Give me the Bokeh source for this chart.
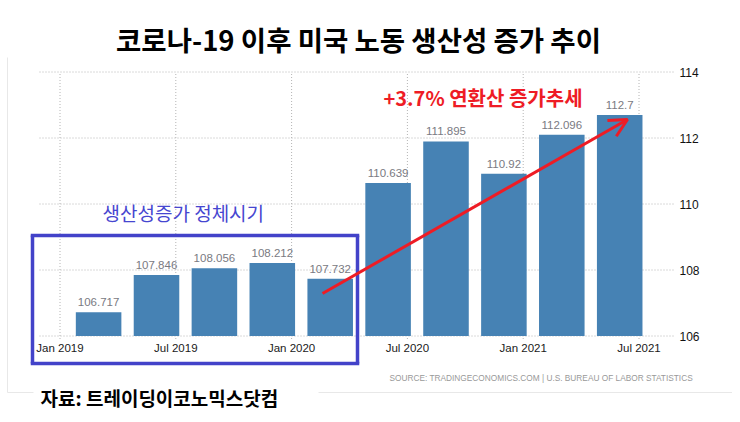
from bokeh.plotting import figure
from bokeh.models import Label, Arrow, OpenHead, ColumnDataSource, Range1d
from bokeh.core.properties import value
from bokeh.embed import file_html
from bokeh.resources import INLINE

# ---------------- data ----------------
quarters = ["2019-03", "2019-06", "2019-09", "2019-12", "2020-03",
            "2020-06", "2020-09", "2020-12", "2021-03", "2021-06"]
productivity = [106.717, 107.846, 108.056, 108.212, 107.732,
                110.639, 111.895, 110.92, 112.096, 112.7]
tick_months = [0, 6, 12, 18, 24, 30]
tick_labels = ["Jan 2019", "Jul 2019", "Jan 2020", "Jul 2020", "Jan 2021", "Jul 2021"]
y_ticks = [106, 108, 110, 112, 114]

title_text = "코로나-19 이후 미국 노동 생산성 증가 추이"
stall_text = "생산성증가 정체시기"
trend_text = "+3.7% 연환산 증가추세"
source_text = "SOURCE: TRADINGECONOMICS.COM | U.S. BUREAU OF LABOR STATISTICS"
credit_text = "자료:  트레이딩이코노믹스닷컴"

# ---------------- layout constants (picture pixels) ----------------
W, H = 732, 414
X0_PX, PX_PER_MONTH = 59.5, 19.3      # pixel of Jan 2019, pixels per month
Y0_PX, PX_PER_UNIT = 335.5, 33.0      # pixel of value 106, pixels per unit
Y_BASE = 106
PLOT_L, PLOT_R, PLOT_T = 39, 675, 71


def dx(px):
    return (px - X0_PX) / PX_PER_MONTH


def dy(py):
    return Y_BASE + (Y0_PX - py) / PX_PER_UNIT


months = [(int(q[:4]) - 2019) * 12 + int(q[5:]) - 1 for q in quarters]
labels = [str(v) for v in productivity]
src = ColumnDataSource(dict(m=months, v=productivity, lab=labels))

p = figure(width=W, height=H,
           x_range=Range1d(dx(0), dx(W)), y_range=Range1d(dy(H), dy(0)),
           output_backend="svg", toolbar_location=None,
           x_axis_location=None, y_axis_location=None,
           min_border=0, min_border_left=0, min_border_right=0,
           min_border_top=0, min_border_bottom=0)
p.outline_line_color = None
p.background_fill_color = "white"
p.border_fill_color = "white"
p.xgrid.visible = False
p.ygrid.visible = False

grid_color = "#b4b4b4"
# horizontal grid lines (value ticks)
p.segment(x0=dx(PLOT_L), x1=dx(PLOT_R), y0=y_ticks, y1=y_ticks,
          line_color=grid_color, line_width=1, line_dash="1 2")
# vertical grid lines (date ticks), with short tick below the plot
p.segment(x0=tick_months, x1=tick_months, y0=Y_BASE - 3 / PX_PER_UNIT, y1=max(y_ticks),
          line_color=grid_color, line_width=1, line_dash="1 2")

# tick labels
p.text(x=tick_months, y=dy(341), text=tick_labels, text_align="center", text_baseline="top",
       text_font=value("Liberation Sans"), text_font_size="11.5px", text_color="#1a1a1a")
p.text(x=dx(679), y=y_ticks, text=[str(t) for t in y_ticks], text_align="left",
       text_baseline="middle", text_font=value("Liberation Sans"), text_font_size="12px",
       text_color="#111111")

# bars
p.vbar(x="m", top="v", bottom=Y_BASE, width=2.36, source=src,
       fill_color="#4682b4", line_color=None)
p.text(x="m", y="v", text="lab", source=src, y_offset=-6,
       text_align="center", text_baseline="bottom",
       text_font=value("Liberation Sans"), text_font_size="11.5px",
       text_color="#7a7a82")


def seg(x0, y0, x1, y1, color, width):
    p.add_layout(Arrow(end=None, x_start=dx(x0), y_start=dy(y0), x_end=dx(x1), y_end=dy(y1),
                       line_color=color, line_width=width))


# faint outer border
seg(7, 57, 7, 392, "#e8e8e8", 1)
seg(7, 392, 33, 392, "#e8e8e8", 1)
seg(318, 392, 740, 392, "#e8e8e8", 1)

# blue box
blue = "#4343c9"
seg(30.25, 235, 358.75, 235, blue, 3.5)
seg(30.25, 363, 358.75, 363, blue, 3.5)
seg(32, 235, 32, 363, blue, 3.5)
seg(357, 235, 357, 363, blue, 3.5)

# red arrow
red = "#ee1c25"
p.add_layout(Arrow(end=OpenHead(size=18, line_color=red, line_width=3),
                   x_start=dx(322), y_start=dy(293), x_end=dx(627), y_end=dy(119),
                   line_color=red, line_width=3))

# texts
p.add_layout(Label(x=dx(358), y=dy(38), text=title_text, text_align="center",
                   text_baseline="middle", text_font="Noto Sans CJK KR",
                   text_font_size="27.5px", text_font_style="bold", text_color="black"))
p.add_layout(Label(x=dx(383), y=dy(97), text=trend_text, text_align="left",
                   text_baseline="middle", text_font="Noto Sans CJK KR",
                   text_font_size="20px", text_font_style="bold", text_color=red))
p.add_layout(Label(x=dx(102), y=dy(212), text=stall_text, text_align="left",
                   text_baseline="middle", text_font="Noto Sans CJK KR",
                   text_font_size="19px", text_color="#4646d0"))
p.add_layout(Label(x=dx(389), y=dy(377), text=source_text, text_align="left",
                   text_baseline="middle", text_font="Liberation Sans",
                   text_font_size="8.3px", text_color="#999999"))
p.add_layout(Label(x=dx(40), y=dy(397), text=credit_text, text_align="left",
                   text_baseline="middle", text_font="Noto Sans CJK KR",
                   text_font_size="19px", text_font_style="bold", text_color="black"))

open("out.html", "w").write(file_html(p, INLINE))
